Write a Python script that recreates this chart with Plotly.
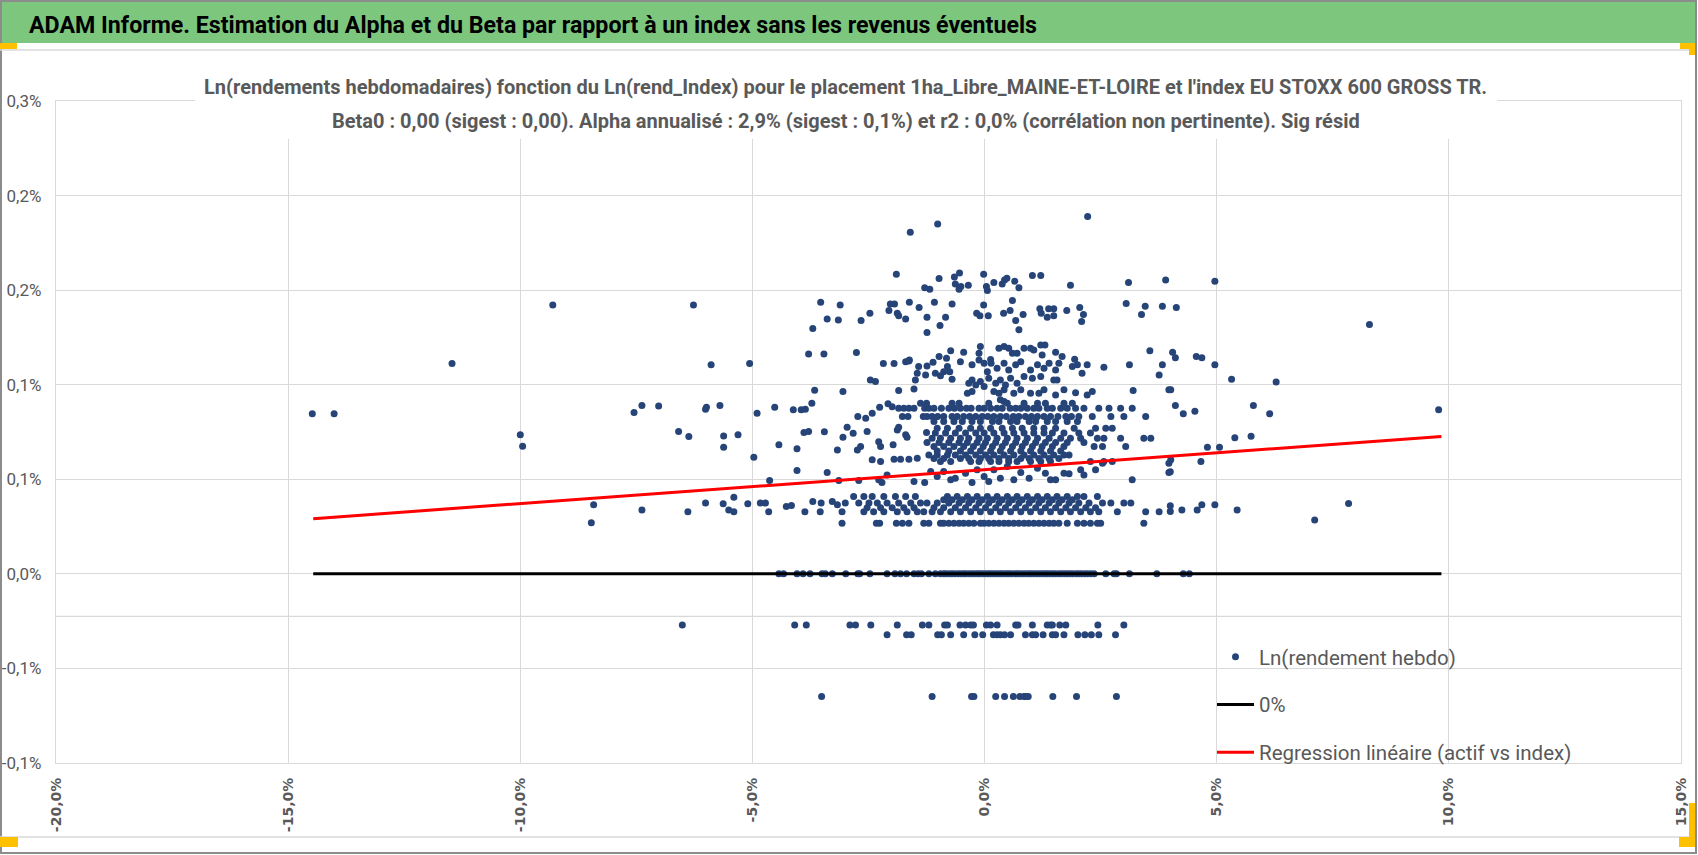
import plotly.graph_objects as go

# --- valeurs (x = Ln(rend_Index) en %, y = Ln(rendement hebdo) en %) ---

# rangees quasi horizontales (valeurs y identiques)
lvl_zero = 0.0
row_zero_x = [-4.43, -4.33, -4.04, -3.91, -3.76, -3.50, -3.43, -3.28, -2.99, -2.73, -2.69, -2.47,
              -2.10, -1.93, -1.81, -1.68, -1.52, -1.43, -1.36, -1.20, -1.06,
              -0.95, -0.88, -0.83, -0.76, -0.70, -0.64, -0.57, -0.51, -0.45, -0.40, -0.33, -0.27,
              -0.21, -0.15, -0.10, -0.04, 0.02, 0.08, 0.13, 0.19, 0.25, 0.31, 0.36, 0.42, 0.48,
              0.53, 0.59, 0.66, 0.71, 0.77, 0.83, 0.89, 0.95, 1.00, 1.06, 1.12, 1.18, 1.24, 1.30,
              1.35, 1.41, 1.47, 1.53, 1.60, 1.66, 1.72, 1.78, 1.84, 1.90, 1.97, 2.03, 2.09, 2.16,
              2.22, 2.29, 2.36, 2.61, 2.79, 2.84, 3.12, 3.71, 4.28, 4.41]

lvl_m027 = -0.0271
row_m027_x = [-6.51, -4.09, -3.84, -2.90, -2.78, -2.45, -1.88, -1.34, -1.20, -0.86, -0.80, -0.53,
              -0.41, -0.30, -0.24, 0.04, 0.13, 0.27, 0.67, 0.72, 1.03, 1.35, 1.42, 1.46, 1.62,
              1.75, 2.44, 3.00]

lvl_m032 = -0.0322
row_m032_x = [-2.10, -1.68, -1.58, -1.01, -0.93, -0.73, -0.45, -0.21, -0.04, 0.19, 0.27, 0.34,
              0.43, 0.56, 0.88, 1.03, 1.10, 1.26, 1.46, 1.53, 1.71, 2.01, 2.16, 2.30, 2.46, 2.82]

lvl_m065 = -0.0648
row_m065_x = [-3.51, -1.13, -0.28, -0.23, 0.24, 0.43, 0.62, 0.76, 0.85, 0.88, 0.94, 1.47, 1.98, 2.84]

lvl_027 = 0.0268
row_027_x = [-3.07, -2.33, -2.26, -1.90, -1.77, -1.63, -1.31, -1.20, -0.95, -0.88, -0.77, -0.66,
             -0.55, -0.45, -0.34, -0.23, -0.09, -0.01, 0.09, 0.20, 0.31, 0.42, 0.52, 0.63, 0.74,
             0.85, 0.95, 1.06, 1.17, 1.28, 1.39, 1.49, 1.60, 1.78, 2.00, 2.14, 2.28, 2.43, 2.50, 3.43]

lvl_033 = 0.0329
row_033_x = [-2.60, -2.39, -2.17, -1.88, -1.67, -1.45, -1.31, -1.13, -0.95, -0.73, -0.52, -0.30,
             -0.09, 0.13, 0.34, 0.56, 0.78, 0.99, 1.21, 1.42, 1.64, 1.85, 2.07, 2.28, 2.46, 2.86,
             3.47, 3.76]

lvl_035 = 0.0350
row_035_x = [-2.53, -2.24, -1.99, -1.74, -1.52, -1.09, -0.88, -0.63, -0.41, -0.19, 0.02, 0.24,
             0.45, 0.67, 0.88, 1.10, 1.31, 1.53, 1.75, 1.96, 2.18, 2.39]

lvl_037 = 0.0374
row_037_x = [-2.71, -2.49, -2.31, -2.10, -1.85, -1.59, -1.38, -1.24, -1.02, -0.77, -0.55, -0.34,
             -0.12, 0.09, 0.31, 0.52, 0.74, 0.96, 1.17, 1.39, 1.60, 1.82, 2.03, 2.25, 2.54, 2.72,
             3.00, 3.15]

lvl_039 = 0.0392
row_039_x = [-0.88, -0.70, -0.48, -0.27, -0.05, 0.17, 0.38, 0.60, 0.81, 1.03, 1.24, 1.46, 1.67, 1.89]

lvl_041 = 0.0409
row_041_x = [-2.82, -2.60, -2.42, -2.17, -1.92, -1.70, -1.49, -0.80, -0.59, -0.37, -0.16, 0.06,
             0.27, 0.49, 0.70, 0.92, 1.14, 1.35, 1.56, 1.78, 2.00, 2.14, 2.43]

lvl_059 = 0.0594
row_059_x = [-0.95, -0.73, -0.30, -0.12, 0.13, 0.31, 0.52, 0.70, 0.99, 1.21, 1.42, 2.28, 2.57, 2.75]

lvl_061 = 0.0610
row_061_x = [-1.09, -0.88, -0.52, -0.34, -0.09, 0.09, 0.31, 0.52, 0.78, 0.96, 1.17, 1.39, 1.60]

lvl_063 = 0.0629
row_063_x = [-1.20, -1.02, -0.80, -0.63, -0.41, -0.19, 0.02, 0.20, 0.42, 0.63, 0.85, 1.06, 1.28,
             1.49, 1.71, 1.82]

lvl_065 = 0.0650
row_065_x = [-1.02, -0.77, -0.52, -0.30, -0.09, 0.13, 0.34, 0.56, 0.78, 0.99, 1.21, 1.42, 1.64]

lvl_067 = 0.0673
row_067_x = [-1.09, -0.88, -0.66, -0.45, -0.24, -0.03, 0.17, 0.38, 0.60, 0.81, 1.03, 1.24, 1.46,
             1.71, 2.36, 2.54, 3.04]

lvl_070 = 0.0695
row_070_x = [-0.98, -0.77, -0.55, -0.37, -0.16, 0.02, 0.24, 0.45, 0.67, 0.88, 1.10, 1.31, 1.53,
             1.78, 2.14]

lvl_072 = 0.0717
row_072_x = [-1.13, -0.95, -0.73, -0.52, -0.34, -0.12, 0.06, 0.27, 0.49, 0.70, 0.92, 1.14, 1.39,
             1.64, 1.85, 2.07, 2.43, 2.57, 2.93, 3.43, 3.58]

lvl_075 = 0.0745
row_075_x = [-1.06, -0.84, -0.63, -0.41, -0.19, -0.01, 0.20, 0.42, 0.63, 0.85, 1.06, 1.28, 1.46,
             1.71, 2.03, 2.28]

lvl_077 = 0.0770
row_077_x = [-1.02, -0.80, -0.55, -0.30, -0.09, 0.13, 0.38, 0.60, 0.81, 1.06, 1.28, 1.53, 1.93,
             2.39, 2.61, 2.75]

lvl_081 = 0.0805
row_081_x = [-1.09, -0.88, -0.66, -0.48, -0.27, -0.09, 0.17, 0.31, 0.56, 0.70, 0.96, 1.10, 1.35,
             1.53, 1.78, 2.00]

lvl_083 = 0.0832
row_083_x = [-1.77, -1.65, -1.32, -1.24, -1.13, -1.01, -0.88, -0.70, -0.59, -0.45, -0.32, -0.19,
             -0.05, 0.07, 0.20, 0.34, 0.47, 0.62, 0.74, 0.88, 1.01, 1.14, 1.28, 1.42, 1.58, 1.75,
             1.87, 2.03, 2.32, 2.72, 3.00, 3.47]

lvl_088 = 0.0876
row_088_x = [-1.85, -1.74, -1.63, -1.52, -1.29, -1.20, -1.09, -0.93, -0.77, -0.65, -0.52, -0.39,
             -0.29, -0.12, -0.01, 0.13, 0.27, 0.38, 0.55, 0.67, 0.78, 0.92, 1.06, 1.17, 1.35, 1.46,
             1.64, 1.78, 1.96, 2.14, 2.46, 2.68, 2.93, 3.18]

lvl_090 = 0.0902
row_090_x = [-1.38, -1.25, -0.70, -0.55, 0.09, 0.49, 0.85, 1.14, 1.31, 1.71, 1.89]

# points isoles (x, y)
pts_x = [
    # gauche
    -14.48, -14.01, -11.47, -9.30, -10.00, -9.95, -7.55, -7.38, -8.42, -8.47, -7.38,
    -7.02, -6.01, -5.99, -5.70, -4.90, -4.52, -4.12, -3.95, -3.86, -3.72, -2.73, -2.56, -2.42,
    -2.26, -2.08, -1.99,
    -6.59, -6.37, -5.62, -5.62, -5.31, -4.43, -4.04, -3.89, -3.79, -3.45, -3.17, -3.05, -2.96,
    -2.83, -2.67, -2.53, -2.28, -2.24, -1.97, -1.85, -1.70, -1.67, -1.88, -1.25, -1.24,
    -4.97, -2.42, -2.24, -1.95, -1.81, -1.63, -1.45, -2.74,
    -6.39, -6.01, -5.63, -5.51, -5.40, -5.40, -5.10, -4.83, -4.72, -4.65, -4.27, -4.16, -3.87,
    -3.70, -3.52, -3.54, -3.28, -3.17, -3.07, -3.00,
    # autour de la droite de regression
    -4.04, -3.39, -4.63, -3.14, -2.71, -2.28, -2.21, -2.10, -1.52, -1.29, -1.16, -1.02, -0.88,
    -0.73, -0.63, -0.41, -0.27, -0.16, -0.01, 0.09, 0.20, 0.34, 0.49, 0.63, 0.78, 0.96, 1.14,
    1.31, 1.42, 1.53, 1.71, 1.82, 2.07, 2.14, 2.39, 2.54, 3.18, 3.97, 3.97,
    # partie haute
    -6.27, -1.90, -1.60, -1.01, 2.22, -3.53, -3.11, -3.70, -3.39, -3.15, -2.66, -2.47, -2.06,
    -2.03, -1.94, -1.88, -1.85, -1.70, -1.62, -1.41, -1.24, -1.24, -1.08, -0.96, -0.84, -0.70,
    -1.29, -1.18, -0.98, -0.65, -0.54, -0.63, -0.55, -0.51, -0.35, -0.02, 0.04, 0.06, 0.20,
    0.38, 0.43, 0.48, 0.65, 0.74, 1.03, 1.21, 1.85, 3.10, 3.90,
    -0.17, -0.10, -0.02, 0.08, 0.41, 0.55, 0.60, 0.67, 0.74, 0.83, 1.19, 1.22, 1.35, 1.38, 1.49,
    1.49, 1.77, 2.05, 2.13, 2.09, 3.05, 3.38, 3.46, 3.83,
    -3.79, -3.46, -2.76, -1.62, -0.98, -0.82, -0.73, -0.45, -0.09, -0.12, 0.13, 0.31, 0.42, 0.52,
    0.60, 0.70, 0.85, 0.99, 1.06, 1.21, 1.30, 1.24, 1.53, 1.67, 1.94, 3.56,
    -5.89, -5.06, -2.18, -1.95, -1.70, -1.63, -1.42, -1.24, -1.11, -0.80, -0.75, -0.70, -0.88,
    -1.45, -1.49, -1.27, -1.06, -0.95, -0.52, -0.27, -0.12, -0.01, 0.06, 0.14, 0.27, 0.42, 0.52,
    0.67, 0.78, 0.99, 1.14, 1.28, 1.39, 1.53, 1.60, 1.89, 2.00, 2.10, 2.21, 2.57, 3.12, 3.76, 3.83,
    -2.46, -2.35, -0.34, -0.27, -0.19, -0.09, -0.01, 0.09, 0.24, 0.34, 0.45, 0.56, 0.70, 0.85,
    1.03, 1.21, 1.49, 1.56, -0.37, -0.27, 0.20, 0.31, 0.42, 0.63, 0.78, 0.99, 1.17, 1.28, 1.53,
    1.71, 1.96, 2.21, 2.32, 3.20, 3.97, -3.66, -3.05, -1.85, -1.52, 0.34, 0.42,
    # droite
    4.96, 4.13, 8.29, 4.05, 4.11, 4.56, 4.68, 4.96, 5.32, 6.28, 4.01,
    4.11, 4.28, 4.53, 5.79, 6.14, 9.78, 5.39, 5.74, 4.80, 5.06, 4.66, 4.01, 4.00,
    4.00, 4.00, 4.25, 4.58, 4.68, 4.96, 5.44, 7.11, 7.84,
]
pts_y = [
    0.0846, 0.0846, 0.1112, 0.1422, 0.0735, 0.0675, 0.0853, 0.0890, 0.0365, 0.0270, 0.0337,
    0.0888, 0.0870, 0.0881, 0.0890, 0.0849, 0.0881, 0.0867, 0.0867, 0.0870, 0.0902, 0.0832, 0.0823,
    0.0849, 0.0881, 0.0899, 0.0884,
    0.0752, 0.0726, 0.0729, 0.0669, 0.0735, 0.0682, 0.0661, 0.0747, 0.0752, 0.0751, 0.0655, 0.0722,
    0.0775, 0.0743, 0.0673, 0.0752, 0.0699, 0.0673, 0.0682, 0.0775, 0.0735, 0.0722, 0.0761, 0.0747,
    0.0694,
    0.0617, 0.0603, 0.0594, 0.0606, 0.0606, 0.0606, 0.0611, 0.0655,
    0.0329, 0.0374, 0.0370, 0.0338, 0.0405, 0.0329, 0.0370, 0.0374, 0.0374, 0.0329, 0.0356, 0.0361,
    0.0329, 0.0383, 0.0374, 0.0329, 0.0383, 0.0365, 0.0329, 0.0374,
    0.0546, 0.0536, 0.0493, 0.0493, 0.0493, 0.0497, 0.0483, 0.0523, 0.0488, 0.0483, 0.0541, 0.0515,
    0.0541, 0.0497, 0.0506, 0.0532, 0.0483, 0.0550, 0.0515, 0.0488, 0.0550, 0.0506, 0.0567, 0.0497,
    0.0536, 0.0506, 0.0559, 0.0532, 0.0497, 0.0497, 0.0532, 0.0529, 0.0550, 0.0523, 0.0550, 0.0585,
    0.0497, 0.0536, 0.0585,
    0.1422, 0.1584, 0.1806, 0.1850, 0.1889, 0.1436, 0.1422, 0.1297, 0.1348, 0.1342, 0.1339, 0.1378,
    0.1392, 0.1427, 0.1427, 0.1378, 0.1364, 0.1348, 0.1436, 0.1408, 0.1357, 0.1276, 0.1436, 0.1313,
    0.1357, 0.1427, 0.1512, 0.1505, 0.1561, 0.1570, 0.1591, 0.1533, 0.1505, 0.1519, 0.1526, 0.1584,
    0.1519, 0.1498, 0.1540, 0.1533, 0.1554, 0.1563, 0.1547, 0.1512, 0.1577, 0.1577, 0.1526, 0.1540,
    0.1554,
    0.1378, 0.1364, 0.1422, 0.1364, 0.1378, 0.1392, 0.1445, 0.1339, 0.1290, 0.1371, 0.1401, 0.1378,
    0.1357, 0.1401, 0.1401, 0.1364, 0.1392, 0.1408, 0.1371, 0.1334, 0.1429, 0.1371, 0.1415, 0.1415,
    0.1163, 0.1163, 0.1170, 0.1131, 0.1149, 0.1140, 0.1179, 0.1172, 0.1202, 0.1166, 0.1133, 0.1193,
    0.1202, 0.1193, 0.1166, 0.1166, 0.1193, 0.1193, 0.1184, 0.1210, 0.1210, 0.1157, 0.1172, 0.1149,
    0.1135, 0.1179,
    0.1105, 0.1112, 0.1112, 0.1112, 0.1121, 0.1126, 0.1096, 0.1099, 0.1119, 0.1096, 0.1069, 0.1029,
    0.1069, 0.1061, 0.1025, 0.1052, 0.1061, 0.1047, 0.1122, 0.1105, 0.1131, 0.1113, 0.1069, 0.1113,
    0.1087, 0.1113, 0.1078, 0.1105, 0.1122, 0.1078, 0.1105, 0.1087, 0.1113, 0.1078, 0.1113, 0.1096,
    0.1105, 0.1061, 0.1105, 0.1092, 0.1105, 0.1052, 0.1105,
    0.1025, 0.1017, 0.1008, 0.1025, 0.0999, 0.1017, 0.0990, 0.1034, 0.1008, 0.1025, 0.0999, 0.1034,
    0.1008, 0.1043, 0.1034, 0.1043, 0.1025, 0.1025, 0.0955, 0.0964, 0.0964, 0.0955, 0.0973, 0.0955,
    0.0973, 0.0955, 0.0955, 0.0973, 0.0946, 0.0973, 0.0958, 0.0946, 0.0964, 0.0969, 0.0973, 0.0971,
    0.0964, 0.0969, 0.0978, 0.0920, 0.0911,
    0.1547, 0.1408, 0.1318, 0.1172, 0.1142, 0.1149, 0.1142, 0.1105, 0.1029, 0.1015, 0.0973,
    0.0890, 0.0846, 0.0860, 0.0890, 0.0846, 0.0867, 0.0720, 0.0728, 0.0670, 0.0670, 0.0594, 0.0603,
    0.0540, 0.0360, 0.0330, 0.0337, 0.0337, 0.0365, 0.0365, 0.0337, 0.0285, 0.0372,
]

rows = [
    (lvl_zero, row_zero_x), (lvl_m027, row_m027_x), (lvl_m032, row_m032_x), (lvl_m065, row_m065_x),
    (lvl_027, row_027_x), (lvl_033, row_033_x), (lvl_035, row_035_x), (lvl_037, row_037_x),
    (lvl_039, row_039_x), (lvl_041, row_041_x), (lvl_059, row_059_x), (lvl_061, row_061_x),
    (lvl_063, row_063_x), (lvl_065, row_065_x), (lvl_067, row_067_x), (lvl_070, row_070_x),
    (lvl_072, row_072_x), (lvl_075, row_075_x), (lvl_077, row_077_x), (lvl_081, row_081_x),
    (lvl_083, row_083_x), (lvl_088, row_088_x), (lvl_090, row_090_x),
]

scatter_x = list(pts_x)
scatter_y = list(pts_y)
for lvl, xs in rows:
    scatter_x += xs
    scatter_y += [lvl] * len(xs)

# droites 0% et regression (extremites lues)
line_x = [-14.46, 9.84]
zero_y = [0.0, 0.0]
reg_y = [0.0292, 0.0726]

x_tickvals = [-20, -15, -10, -5, 0, 5, 10, 15]
x_ticktext = ["-20,0%", "-15,0%", "-10,0%", "-5,0%", "0,0%", "5,0%", "10,0%", "15,0%"]
y_tickvals = [-0.10, -0.05, 0.0, 0.05, 0.10, 0.15, 0.20, 0.25]
y_ticktext = ["-0,1%", "-0,1%", "0,0%", "0,1%", "0,1%", "0,2%", "0,2%", "0,3%"]
axis_cross = -0.0225

header_text = "ADAM Informe. Estimation du Alpha et du Beta par rapport à un index sans les revenus éventuels"
title_l1 = ("Ln(rendements hebdomadaires) fonction du Ln(rend_Index) pour le placement "
            "1ha_Libre_MAINE-ET-LOIRE et l'index EU STOXX 600 GROSS TR.")
title_l2 = ("Beta0 : 0,00 (sigest : 0,00). Alpha annualisé : 2,9% (sigest : 0,1%) et r2 : 0,0% "
            "(corrélation non pertinente). Sig résid")

# --- mise en page (pixels -> coordonnees papier) ---
W, H = 1698, 855
PL, PR, PT, PB = 56, 1681, 101, 763
FONT = "Roboto, sans-serif"
GREY = "#595959"
GRID = "#D9D9D9"


def fx(px):
    return (px - PL) / (PR - PL)


def fy(py):
    return (PB - py) / (PB - PT)


fig = go.Figure()
fig.add_trace(go.Scatter(x=scatter_x, y=scatter_y, mode="markers", name="Ln(rendement hebdo)",
                         marker=dict(color="#264478", size=7, line=dict(width=0)),
                         legendgroup="a"))
fig.add_trace(go.Scatter(x=line_x, y=zero_y, mode="lines", name="0%",
                         line=dict(color="#000000", width=3), legendgroup="b"))
fig.add_trace(go.Scatter(x=line_x, y=reg_y, mode="lines", name="Regression linéaire (actif vs index)",
                         line=dict(color="#FF0000", width=3), legendgroup="c"))

shapes = [
    # ligne grise de l'axe horizontal
    dict(type="line", xref="paper", yref="y", x0=0, x1=1, y0=axis_cross, y1=axis_cross,
         line=dict(color=GRID, width=1.3), layer="below"),
    # bandeau vert
    dict(type="rect", xref="paper", yref="paper", x0=fx(0), x1=fx(1695), y0=fy(43), y1=fy(0),
         fillcolor="#7DC67D", line=dict(width=0), layer="above"),
    # cadre
    dict(type="rect", xref="paper", yref="paper", x0=fx(1), x1=fx(1696), y0=fy(853), y1=fy(1),
         line=dict(color="#8C8C8C", width=2), layer="above"),
    dict(type="line", xref="paper", yref="paper", x0=fx(0), x1=fx(1695), y0=fy(50), y1=fy(50),
         line=dict(color=GRID, width=1.5), layer="above"),
    dict(type="line", xref="paper", yref="paper", x0=fx(0), x1=fx(1695), y0=fy(837), y1=fy(837),
         line=dict(color=GRID, width=1.5), layer="above"),
    # fond blanc du titre
    dict(type="rect", xref="paper", yref="paper", x0=fx(195), x1=fx(1497), y0=fy(139), y1=fy(58),
         fillcolor="white", line=dict(width=0), layer="above"),
]
# poignees jaunes de selection
for x0, y0, x1, y1 in [(0, 43, 17, 49), (1680, 43, 1695, 49), (1689, 43, 1695, 55),
                       (0, 837, 18, 847), (1679, 837, 1695, 847), (1689, 803, 1695, 847)]:
    shapes.append(dict(type="rect", xref="paper", yref="paper", x0=fx(x0), x1=fx(x1),
                       y0=fy(y1), y1=fy(y0), fillcolor="#FFC000", line=dict(width=0), layer="above"))

annotations = [
    dict(text=header_text, x=fx(27), y=fy(25), xref="paper", yref="paper", xanchor="left",
         yanchor="middle", showarrow=False,
         font=dict(family=FONT, size=23.2, color="#000000", weight="bold")),
    dict(text=title_l1, x=fx(845), y=fy(87), xref="paper", yref="paper", xanchor="center",
         yanchor="middle", showarrow=False,
         font=dict(family=FONT, size=20, color=GREY, weight="bold")),
    dict(text=title_l2, x=fx(846), y=fy(121), xref="paper", yref="paper", xanchor="center",
         yanchor="middle", showarrow=False,
         font=dict(family=FONT, size=20, color=GREY, weight="bold")),
]

fig.update_layout(
    width=W, height=H,
    margin=dict(l=PL, r=W - PR, t=PT, b=H - PB, pad=0),
    paper_bgcolor="white", plot_bgcolor="white",
    showlegend=True,
    legend=dict(x=fx(1212), y=fy(637), xanchor="left", yanchor="top", itemwidth=37,
                bgcolor="rgba(0,0,0,0)", borderwidth=0, tracegroupgap=18,
                font=dict(family=FONT, size=20.5, color=GREY)),
    shapes=shapes,
    annotations=annotations,
)
fig.update_xaxes(range=[-20, 15], tickvals=x_tickvals, ticktext=x_ticktext, tickangle=-90,
                 showgrid=True, gridcolor=GRID, gridwidth=1.3, zeroline=False,
                 showline=True, linecolor=GRID, linewidth=1.3, mirror=True, ticks="",
                 ticklabelstandoff=8, automargin=False,
                 tickfont=dict(family="DejaVu Sans", size=14, color=GREY, weight="bold"))
fig.update_yaxes(range=[-0.10, 0.25], tickvals=y_tickvals, ticktext=y_ticktext,
                 showgrid=True, gridcolor=GRID, gridwidth=1.3, zeroline=False,
                 showline=True, linecolor=GRID, linewidth=1.3, mirror=True, ticks="",
                 ticklabelstandoff=10, automargin=False,
                 tickfont=dict(family=FONT, size=17, color=GREY))

# la page html a une marge de 8 px par defaut : on la supprime
fig.write_html("out.html", config={"displayModeBar": False},
               post_script="document.body.style.margin='0';")
